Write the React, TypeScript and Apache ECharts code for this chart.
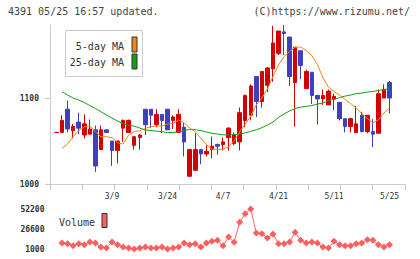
import React, { useEffect, useRef } from 'react';
import * as echarts from 'echarts';

const categories = [
  '2/21', '2/25', '2/26', '2/27', '2/28', '3/2', '3/3', '3/4', '3/5', '3/6',
  '3/9', '3/10', '3/11', '3/12', '3/13', '3/16', '3/17', '3/18', '3/19', '3/23',
  '3/24', '3/25', '3/26', '3/27', '3/30', '3/31', '4/1', '4/2', '4/3', '4/6',
  '4/7', '4/8', '4/9', '4/10', '4/13', '4/14', '4/15', '4/16', '4/17', '4/20',
  '4/21', '4/22', '4/23', '4/24', '4/27', '4/28', '4/30', '5/1', '5/7', '5/8',
  '5/11', '5/12', '5/13', '5/14', '5/15', '5/18', '5/19', '5/20', '5/21', '5/22',
  '5/25',
];
const xLabelDates = ['3/9', '3/24', '4/7', '4/21', '5/11', '5/25'];

const opens = [
  1060, 1060, 1087, 1062, 1072, 1057, 1058, 1063, 1040, 1063,
  1050, 1039, 1065, 1060, 1045, 1054, 1087, 1087, 1069, 1081,
  1087, 1074, 1060, 1066, 1009, 1016, 1040, 1035, 1040, 1046,
  1046, 1054, 1047, 1049, 1074, 1080, 1125, 1096, 1115, 1134,
  1152, 1177, 1171, 1118, 1155, 1111, 1130, 1103, 1099, 1092,
  1099, 1095, 1076, 1067, 1060, 1080, 1061, 1061, 1059, 1100,
  1118,
];
const closes = [
  1060, 1074, 1064, 1067, 1065, 1070, 1064, 1021, 1063, 1060,
  1039, 1050, 1074, 1074, 1055, 1057, 1069, 1080, 1081, 1074,
  1063, 1078, 1081, 1049, 1040, 1040, 1035, 1038, 1044, 1044,
  1049, 1065, 1057, 1083, 1103, 1114, 1096, 1131, 1135, 1164,
  1178, 1175, 1125, 1159, 1138, 1131, 1103, 1099, 1103, 1108,
  1102, 1076, 1067, 1076, 1070, 1061, 1080, 1058, 1105, 1110,
  1100,
];
const lows = [
  1060, 1060, 1060, 1053, 1058, 1053, 1058, 1014, 1040, 1060,
  1021, 1024, 1049, 1060, 1040, 1040, 1057, 1065, 1066, 1059,
  1063, 1064, 1060, 1032, 1009, 1016, 1023, 1032, 1030, 1034,
  1039, 1039, 1045, 1039, 1066, 1074, 1078, 1089, 1107, 1119,
  1150, 1150, 1114, 1067, 1122, 1111, 1093, 1069, 1092, 1092,
  1086, 1074, 1060, 1060, 1059, 1060, 1059, 1043, 1059, 1100,
  1082,
];
const highs = [
  1060, 1080, 1097, 1070, 1083, 1081, 1075, 1068, 1068, 1063,
  1050, 1050, 1075, 1075, 1056, 1058, 1087, 1087, 1087, 1081,
  1087, 1080, 1087, 1071, 1040, 1059, 1040, 1045, 1055, 1047,
  1054, 1066, 1060, 1089, 1104, 1116, 1125, 1131, 1136, 1184,
  1178, 1185, 1171, 1159, 1155, 1133, 1130, 1104, 1110, 1110,
  1105, 1095, 1076, 1077, 1091, 1084, 1080, 1076, 1110, 1116,
  1120,
];

const ma5 = [
  null,
  1041.5, 1046.5, 1055, 1062, 1066.5, 1067.4, 1061, 1055, 1055, 1054,
  1048, 1046.5, 1057, 1061, 1062, 1064.8, 1066.6, 1067.4, 1067.4, 1069.8,
  1070.6, 1074.4, 1071.5, 1065, 1060.8, 1053.5, 1046, 1040.7, 1040.3, 1040.3,
  1043, 1050, 1060.5, 1069.8, 1079, 1092, 1100, 1110.5, 1125, 1138.4,
  1148.3, 1154, 1159.3, 1159.3, 1155.2, 1149.4, 1139, 1123.8, 1112.8, 1107.6,
  1103.5, 1098.3, 1093.6, 1088.4, 1082, 1076.2, 1071.3, 1074.4, 1082.6, 1088.4,
];
const ma25 = [
  null,
  1107.3, 1103.5, 1100, 1097.7, 1094.8, 1091.3, 1087.8, 1084.3, 1080.2, 1076.7,
  1073.3, 1070.3, 1068.3, 1067.4, 1065.1, 1062.8, 1062.2, 1061.6, 1060.8, 1059.9,
  1059.9, 1060.8, 1062.2, 1063.6, 1063.1, 1062.2, 1060.5, 1059, 1058.1, 1057.3,
  1057, 1057.6, 1058.1, 1059.5, 1061.3, 1063, 1065.5, 1068.5, 1072, 1077.5,
  1081.5, 1085, 1087.8, 1089.5, 1090.3, 1091.3, 1093, 1094.2, 1097.1, 1098.3,
  1100.6, 1102.3, 1103.5, 1105.2, 1105.8, 1107, 1107.6, 1108.7, 1109.9, 1111,
];
const volumes = [
  null,
  8680, 7830, 5270, 7830, 6550, 9960, 8680, 3560, 2280, 9960,
  6550, 3560, 2280, 1000, 2280, 3560, 2280, 2280, 3560, 1000,
  2280, 3560, 8680, 6550, 7830, 3560, 8680, 10810, 12090, 5270,
  16360, 9530, 35130, 46230, 52200, 21480, 20630, 15080, 20200, 7830,
  7830, 9960, 22330, 12090, 8680, 9960, 8680, 3560, 2280, 10810,
  6550, 5270, 5270, 7830, 8680, 12950, 12090, 6550, 3560, 6550,
];

const priceTicks = [1000, 1100];
const volumeTicks = [1000, 26600, 52200];

const MONO = '"DejaVu Sans Mono", "Liberation Mono", monospace';
const RED = '#d40000';
const BLUE = '#3f3fbf';
const ORANGE = '#f0861a';
const GREEN = '#14a014';
const VOLC = '#ff5f5f';
const AXIS = '#cccccc';
const TXT = '#333333';

export default function App() {
  const ref = useRef<HTMLDivElement>(null);
  useEffect(() => {
    document.body.style.margin = '0';
    const chart = echarts.init(ref.current!, null, { renderer: 'svg' });
    const option: any = {
      animation: false,
      grid: [
        { left: 50, right: 15, top: 25, bottom: 75, outerBoundsMode: 'none' },
        { left: 56.5, right: 30.5, top: 25, bottom: 75, outerBoundsMode: 'none' },
        { left: 56.5, right: 30.5, top: 209, bottom: 10, outerBoundsMode: 'none' },
      ],
      xAxis: [
        {
          gridIndex: 0, type: 'value', min: 0, max: 11, interval: 1,
          axisLine: { show: true, onZero: false, lineStyle: { color: AXIS, width: 1 } },
          axisTick: { show: true, length: 6, lineStyle: { color: AXIS, width: 1 } },
          axisLabel: { show: false }, splitLine: { show: false },
        },
        {
          gridIndex: 1, type: 'category', data: categories, boundaryGap: false,
          axisLine: { show: false }, axisTick: { show: false }, splitLine: { show: false },
          axisLabel: {
            interval: (idx: number) => xLabelDates.includes(categories[idx]),
            fontSize: 8, fontFamily: MONO, color: TXT, margin: 8,
          },
        },
        { gridIndex: 2, type: 'category', data: categories, boundaryGap: false, show: false },
      ],
      yAxis: [
        {
          gridIndex: 0, type: 'value', min: 1000, max: 1185,
          axisLine: { show: true, onZero: false, lineStyle: { color: AXIS, width: 1 } },
          axisTick: { show: true, length: 5, customValues: priceTicks, lineStyle: { color: AXIS } },
          axisLabel: {
            customValues: priceTicks, margin: 11, fontSize: 8, fontWeight: 'bold',
            fontFamily: MONO, color: TXT, formatter: (v: number) => String(v),
          },
          splitLine: { show: false },
        },
        { gridIndex: 1, type: 'value', min: 1000, max: 1185, show: false, splitLine: { show: false } },
        {
          gridIndex: 2, type: 'value', min: 1000, max: 52200,
          axisLine: { show: false }, axisTick: { show: false }, splitLine: { show: false },
          axisLabel: {
            customValues: volumeTicks, margin: 12, fontSize: 8, fontWeight: 'bold',
            fontFamily: MONO, color: TXT, formatter: (v: number) => String(v),
          },
        },
      ],
      series: [
        {
          name: 'Price', type: 'candlestick', xAxisIndex: 1, yAxisIndex: 1,
          data: categories.map((_, i) => [opens[i], closes[i], lows[i], highs[i]]),
          barWidth: 4,
          itemStyle: {
            color: RED, color0: BLUE, borderColor: RED, borderColor0: BLUE, borderWidth: 1,
          },
        },
        {
          name: '25-day MA', type: 'line', xAxisIndex: 1, yAxisIndex: 1, data: ma25,
          symbol: 'none', lineStyle: { color: GREEN, width: 1 }, itemStyle: { color: GREEN },
        },
        {
          name: '5-day MA', type: 'line', xAxisIndex: 1, yAxisIndex: 1, data: ma5,
          symbol: 'none', lineStyle: { color: ORANGE, width: 1 }, itemStyle: { color: ORANGE },
        },
        {
          name: 'Volume', type: 'line', xAxisIndex: 2, yAxisIndex: 2, data: volumes,
          symbol: 'diamond', symbolSize: 7, showSymbol: true, showAllSymbol: true,
          lineStyle: { color: VOLC, width: 1 }, itemStyle: { color: VOLC },
        },
      ],
      graphic: [
        { type: 'text', left: 8, top: 6, style: { text: '4391 05/25 16:57 updated.', fontSize: 10, fontFamily: MONO, fill: '#444' } },
        { type: 'text', right: 10, top: 6, style: { text: '(C)https://www.rizumu.net/', fontSize: 10, fontFamily: MONO, fill: '#444' } },
        {
          type: 'rect', shape: { x: 65.5, y: 30.5, width: 77, height: 46 },
          style: { fill: '#fff', stroke: AXIS, lineWidth: 1 }, z: 10,
        },
        {
          type: 'text', x: 124, y: 46, z: 11,
          style: { text: '5-day MA', fontSize: 10, fontFamily: MONO, fill: TXT, align: 'right', verticalAlign: 'middle' },
        },
        {
          type: 'text', x: 124, y: 62, z: 11,
          style: { text: '25-day MA', fontSize: 10, fontFamily: MONO, fill: TXT, align: 'right', verticalAlign: 'middle' },
        },
        {
          type: 'rect', shape: { x: 132, y: 37, width: 5, height: 15 }, z: 11,
          style: { fill: ORANGE, stroke: '#333', lineWidth: 1 },
        },
        {
          type: 'rect', shape: { x: 132, y: 54, width: 5, height: 15 }, z: 11,
          style: { fill: GREEN, stroke: '#333', lineWidth: 1 },
        },
        {
          type: 'text', x: 59, y: 222, z: 11,
          style: { text: 'Volume', fontSize: 10, fontFamily: MONO, fill: TXT, align: 'left', verticalAlign: 'middle' },
        },
        {
          type: 'rect', shape: { x: 102, y: 213.5, width: 5, height: 14 }, z: 11,
          style: { fill: VOLC, stroke: '#333', lineWidth: 1 },
        },
      ],
    };
    chart.setOption(option);
    return () => chart.dispose();
  }, []);
  return <div ref={ref} style={{ width: 420, height: 259 }} />;
}
